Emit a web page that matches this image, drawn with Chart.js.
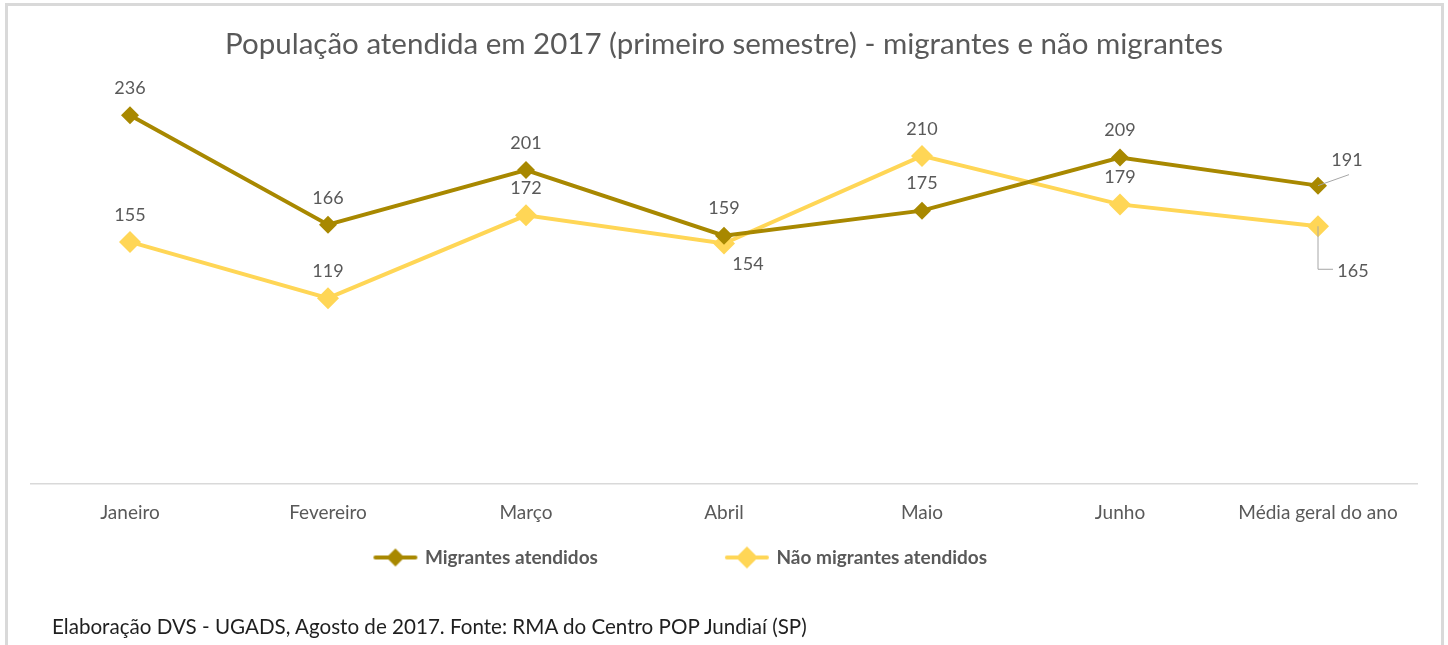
<!DOCTYPE html>
<html>
<head>
<meta charset="utf-8">
<script src="https://cdn.jsdelivr.net/npm/chart.js@4"></script>
<style>
  html, body { margin: 0; padding: 0; background: #fff; }
  #wrap { position: relative; width: 1448px; height: 645px; overflow: hidden; }
  #frame { position: absolute; left: 5px; top: 3px; width: 1433px; height: 700px;
           border: 3px solid #D9D9D9; pointer-events: none; }
  #footer { position: absolute; left: 52px; top: 614px; font-family: Lato, sans-serif;
            font-size: 20.6px; color: #1f1f1f; white-space: nowrap; }
</style>
</head>
<body>
<div id="wrap">
  <canvas id="myChart" width="1448" height="645"></canvas>
  <div id="frame"></div>
  <div id="footer">Elaboração DVS - UGADS, Agosto de 2017. Fonte: RMA do Centro POP Jundiaí (SP)</div>
</div>
<script>
const months = ["Janeiro", "Fevereiro", "Março", "Abril", "Maio", "Junho", "Média geral do ano"];
const migrantes = [236, 166, 201, 159, 175, 209, 191];
const naoMigrantes = [155, 119, 172, 154, 210, 179, 165];
const seriesNames = ["Migrantes atendidos", "Não migrantes atendidos"];

const darkGold = "#A88800";
const lightGold = "#FFD656";
const textGray = "#595959";

// legend glyph: short line with a diamond in the middle
function legendGlyph(color, r) {
  const c = document.createElement("canvas");
  c.width = 46; c.height = 24;
  const g = c.getContext("2d");
  g.strokeStyle = color;
  g.lineWidth = 4;
  g.lineCap = "round";
  g.beginPath(); g.moveTo(3, 12); g.lineTo(43, 12); g.stroke();
  g.fillStyle = color;
  g.beginPath();
  g.moveTo(23, 12 - r); g.lineTo(23 + r, 12); g.lineTo(23, 12 + r); g.lineTo(23 - r, 12);
  g.closePath(); g.fill();
  return c;
}

// where each value label sits relative to its point: [dx, dy, leader]
const labelPlacement = [
  [[0, -27], [0, -27], [0, -27], [0, -27], [0, -27], [0, -27], [29, -25, "up"]],
  [[0, -27], [0, -27], [0, -27], [24, 21], [0, -27], [0, -27], [35, 45, "down"]]
];

const valueLabels = {
  id: "valueLabels",
  afterDatasetsDraw(chart) {
    const ctx = chart.ctx;
    ctx.save();
    ctx.font = "18px Lato";
    ctx.fillStyle = textGray;
    ctx.textAlign = "center";
    ctx.textBaseline = "middle";
    chart.data.datasets.forEach((ds, di) => {
      const meta = chart.getDatasetMeta(di);
      meta.data.forEach((pt, i) => {
        const p = labelPlacement[di][i];
        const lx = pt.x + p[0], ly = pt.y + p[1];
        if (p[2]) {
          ctx.strokeStyle = "#A6A6A6";
          ctx.lineWidth = 1;
          ctx.beginPath();
          if (p[2] === "up") {
            ctx.moveTo(pt.x, pt.y);
            ctx.lineTo(lx + 2, ly + 14);
          } else {
            ctx.moveTo(pt.x, pt.y);
            ctx.lineTo(pt.x, ly - 2);
            ctx.lineTo(lx - 20, ly - 2);
          }
          ctx.stroke();
        }
        ctx.fillText(ds.data[i], lx, ly);
      });
    });
    ctx.restore();
  }
};

const data = {
  labels: months,
  datasets: [
    {
      label: seriesNames[0],
      data: migrantes,
      borderColor: darkGold,
      backgroundColor: darkGold,
      borderWidth: 4,
      pointStyle: "rectRot",
      pointRadius: 9,
      pointBorderWidth: 0,
      pointBackgroundColor: darkGold,
      legendGlyph: legendGlyph(darkGold, 9)
    },
    {
      label: seriesNames[1],
      data: naoMigrantes,
      borderColor: lightGold,
      backgroundColor: lightGold,
      borderWidth: 4,
      pointStyle: "rectRot",
      pointRadius: 11,
      pointBorderWidth: 0,
      pointBackgroundColor: lightGold,
      legendGlyph: legendGlyph(lightGold, 11)
    }
  ]
};

const config = {
  type: "line",
  data: data,
  options: {
    responsive: false,
    animation: false,
    layout: { padding: { left: 31, right: 31, top: 0, bottom: 68 } },
    scales: {
      x: {
        offset: true,
        grid: { display: false },
        border: { display: true, color: "#D9D9D9", width: 1.5 },
        ticks: { color: textGray, font: { family: "Lato", size: 19 }, padding: 9 }
      },
      y: { display: false, min: 0, max: 250 }
    },
    plugins: {
      title: {
        display: true,
        text: "População atendida em 2017 (primeiro semestre) - migrantes e não migrantes",
        color: textGray,
        font: { family: "Lato", size: 29.5, weight: "normal" },
        padding: { top: 27, bottom: 31 }
      },
      legend: {
        display: true,
        position: "bottom",
        labels: {
          usePointStyle: true,
          pointStyleWidth: 40,
          padding: 15,
          color: textGray,
          font: { family: "Lato", size: 19, weight: "bold" },
          generateLabels(chart) {
            const pad = ["\u2003".repeat(8), "\u2003".repeat(6)];
            return chart.data.datasets.map((ds, i) => ({
              text: ds.label + pad[i],
              fillStyle: ds.borderColor,
              strokeStyle: ds.borderColor,
              lineWidth: 0,
              pointStyle: ds.legendGlyph,
              hidden: false,
              datasetIndex: i,
              fontColor: textGray
            }));
          }
        }
      },
      tooltip: { enabled: false }
    }
  },
  plugins: [valueLabels]
};

new Chart(document.getElementById("myChart"), config);
</script>
</body>
</html>
